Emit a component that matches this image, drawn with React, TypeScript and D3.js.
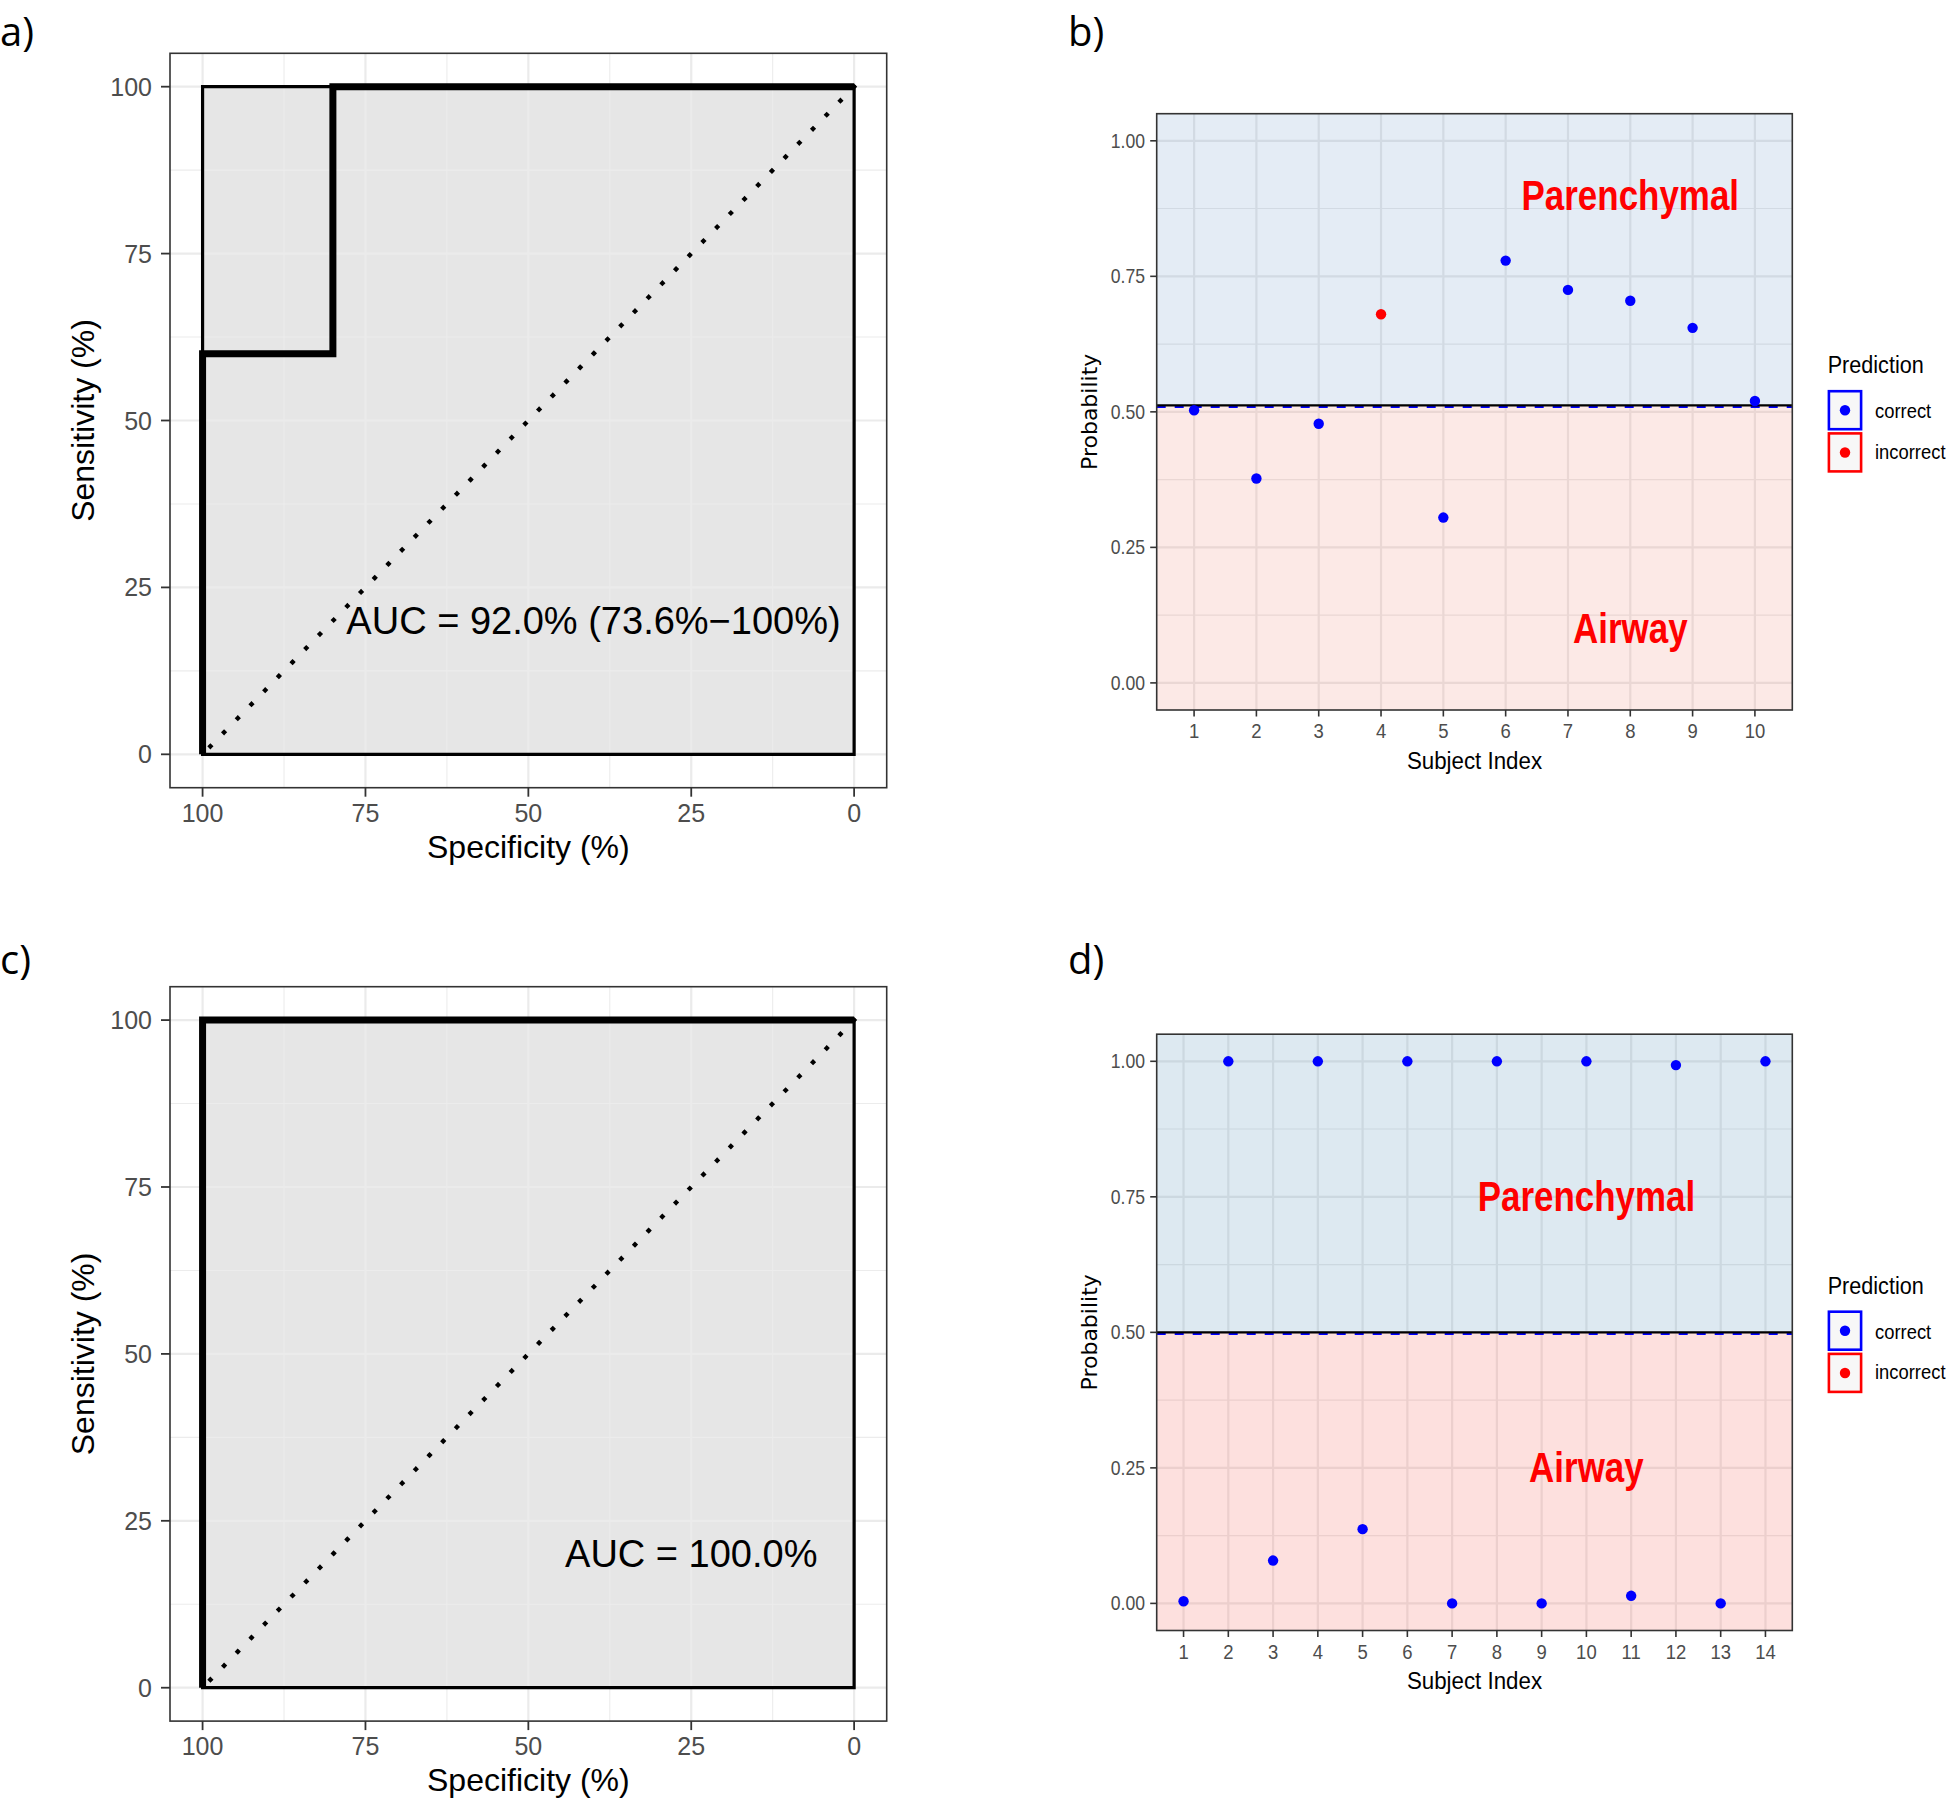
import React from "react";
import * as d3 from "d3";

// ---------- data ----------
const rocTicks = [100, 75, 50, 25, 0];
const rocMinor = [12.5, 37.5, 62.5, 87.5];

// panel a ROC curve (specificity %, sensitivity %)
const rocASpec = [100, 100, 80, 80, 0];
const rocASens = [0, 60, 60, 100, 100];
// panel c ROC curve
const rocCSpec = [100, 100, 0];
const rocCSens = [0, 100, 100];
// confidence band outline (both panels)
const bandSpec = [100, 100, 0, 0, 100];
const bandSens = [0, 100, 100, 0, 0];

const aucA = "AUC = 92.0% (73.6%\u2212100%)";
const aucC = "AUC = 100.0%";

// panel b probabilities
const probB = [0.503, 0.377, 0.478, 0.68, 0.305, 0.779, 0.725, 0.705, 0.655, 0.52];
const predB = ["correct", "correct", "correct", "incorrect", "correct", "correct", "correct", "correct", "correct", "correct"];
const thresholdB = 0.512;

// panel d probabilities
const probD = [0.004, 1.0, 0.079, 1.0, 0.137, 1.0, 0.0, 1.0, 0.0, 1.0, 0.014, 0.993, 0.0, 1.0];
const predD = Array.from({ length: 14 }, () => "correct");
const thresholdD = 0.5;

const probTicks = [0, 0.25, 0.5, 0.75, 1];
const probMinor = [0.125, 0.375, 0.625, 0.875];
const predLevels = ["correct", "incorrect"];
const predColors = ["#0000ff", "#ff0000"];

const SANS = "'Liberation Sans', Arial, Helvetica, sans-serif";
const LBL = "'Open Sans', 'DejaVu Sans', sans-serif";

function NText({ x, y, sx = 1, rotate = 0, anchor = "start", size, weight = "normal", fill = "#000", family = SANS, children }: any) {
  const tr = `translate(${x},${y})` + (rotate ? ` rotate(${rotate})` : "") + (sx !== 1 ? ` scale(${sx},1)` : "");
  return (
    <text transform={tr} textAnchor={anchor} fontSize={size} fontWeight={weight} fill={fill} fontFamily={family}>
      {children}
    </text>
  );
}

function RocPanel({ oy, spec, sens, auc, aucX }: any) {
  const x0 = 170, x1 = 886.7, y0 = 53.3 + oy, y1 = 787.7 + oy;
  const xS = d3.scaleLinear().domain([105, -5]).range([x0, x1]);
  const yS = d3.scaleLinear().domain([-5, 105]).range([y1, y0]);
  const pathOf = (xs: number[], ys: number[]) =>
    d3.line<number>().x((d) => xS(d)).y((d, i) => yS(ys[i]))(xs) as string;
  const band = pathOf(bandSpec, bandSens) + "Z";
  const curve = pathOf(spec, sens);
  const diag = pathOf([0, 100], [100, 0]);
  return (
    <g>
      <rect x={x0} y={y0} width={x1 - x0} height={y1 - y0} fill="#fff" />
      <path d={band} fill="#e6e6e6" stroke="none" />
      {rocMinor.map((v) => (
        <g key={"m" + v}>
          <line x1={xS(v)} x2={xS(v)} y1={y0} y2={y1} stroke="#ececec" strokeWidth={1.1} />
          <line x1={x0} x2={x1} y1={yS(v)} y2={yS(v)} stroke="#ececec" strokeWidth={1.1} />
        </g>
      ))}
      {rocTicks.map((v) => (
        <g key={"M" + v}>
          <line x1={xS(v)} x2={xS(v)} y1={y0} y2={y1} stroke="#ebebeb" strokeWidth={2.2} />
          <line x1={x0} x2={x1} y1={yS(v)} y2={yS(v)} stroke="#ebebeb" strokeWidth={2.2} />
        </g>
      ))}
      <path d={band} fill="none" stroke="#000" strokeWidth={3.2} />
      <path d={diag} fill="none" stroke="#000" strokeWidth={4.4} strokeLinecap="square" strokeDasharray="0.01 19.6" />
      <path d={curve} fill="none" stroke="#000" strokeWidth={7} strokeLinejoin="miter" />
      <rect x={x0} y={y0} width={x1 - x0} height={y1 - y0} fill="none" stroke="#333" strokeWidth={1.6} />
      {rocTicks.map((v) => (
        <g key={"t" + v}>
          <line x1={x0 - 9} x2={x0} y1={yS(v)} y2={yS(v)} stroke="#333" strokeWidth={1.8} />
          <NText x={152} y={yS(v) + 9} anchor="end" size={25} fill="#4d4d4d">{String(v)}</NText>
          <line x1={xS(v)} x2={xS(v)} y1={y1} y2={y1 + 9} stroke="#333" strokeWidth={1.8} />
          <NText x={xS(v)} y={822 + oy} anchor="middle" size={25} fill="#4d4d4d">{String(v)}</NText>
        </g>
      ))}
      <NText x={(x0 + x1) / 2} y={858 + oy} anchor="middle" size={32}>Specificity (%)</NText>
      <NText x={94} y={(y0 + y1) / 2} rotate={-90} anchor="middle" size={32}>Sensitivity (%)</NText>
      <NText x={xS(aucX)} y={yS(20) + 13} anchor="middle" size={38}>{auc}</NText>
    </g>
  );
}

function ProbPanel({ oy, probs, preds, threshold, labX, labYTop, labYBot, blue, pink }: any) {
  const n = probs.length;
  const x0 = 1156.7, x1 = 1792.3, y0 = 113.7 + oy, y1 = 710 + oy;
  const idx = d3.range(1, n + 1);
  const xS = d3.scaleLinear().domain([0.4, n + 0.6]).range([x0, x1]);
  const yS = d3.scaleLinear().domain([-0.05, 1.05]).range([y1, y0]);
  const col = d3.scaleOrdinal<string, string>().domain(predLevels).range(predColors);
  const ty = yS(threshold);
  const SX = 0.88;
  return (
    <g>
      <rect x={x0} y={y0} width={x1 - x0} height={y1 - y0} fill="#fff" />
      {probMinor.map((v) => (
        <line key={"m" + v} x1={x0} x2={x1} y1={yS(v)} y2={yS(v)} stroke="#ebebeb" strokeWidth={1.1} />
      ))}
      {probTicks.map((v) => (
        <line key={"M" + v} x1={x0} x2={x1} y1={yS(v)} y2={yS(v)} stroke="#ebebeb" strokeWidth={2.2} />
      ))}
      {idx.map((v) => (
        <line key={"v" + v} x1={xS(v)} x2={xS(v)} y1={y0} y2={y1} stroke="#ebebeb" strokeWidth={2.2} />
      ))}
      <rect x={x0} y={y0} width={x1 - x0} height={ty - y0} fill={blue[0]} fillOpacity={blue[1]} />
      <rect x={x0} y={ty} width={x1 - x0} height={y1 - ty} fill={pink[0]} fillOpacity={pink[1]} />
      <line x1={x0} x2={x1} y1={ty + 1.3} y2={ty + 1.3} stroke="#0000ff" strokeWidth={2.6} strokeDasharray="9 9" />
      <line x1={x0} x2={x1} y1={ty} y2={ty} stroke="#000" strokeWidth={2.2} />
      <NText x={xS(labX)} y={yS(labYTop) + 14.6} anchor="middle" size={41.6} weight="bold" fill="#ff0000" sx={0.84}>Parenchymal</NText>
      <NText x={xS(labX)} y={yS(labYBot) + 14.6} anchor="middle" size={41.6} weight="bold" fill="#ff0000" sx={0.84}>Airway</NText>
      {probs.map((p: number, i: number) => (
        <circle key={i} cx={xS(i + 1)} cy={yS(p)} r={5.2} fill={col(preds[i])} />
      ))}
      <rect x={x0} y={y0} width={x1 - x0} height={y1 - y0} fill="none" stroke="#333" strokeWidth={1.6} />
      {probTicks.map((v) => (
        <g key={"t" + v}>
          <line x1={x0 - 6.5} x2={x0} y1={yS(v)} y2={yS(v)} stroke="#333" strokeWidth={1.6} />
          <NText x={1145} y={yS(v) + 7} anchor="end" size={20} fill="#4d4d4d" sx={SX}>{v.toFixed(2)}</NText>
        </g>
      ))}
      {idx.map((v) => (
        <g key={"x" + v}>
          <line x1={xS(v)} x2={xS(v)} y1={y1} y2={y1 + 6.5} stroke="#333" strokeWidth={1.6} />
          <NText x={xS(v)} y={738 + oy} anchor="middle" size={21} fill="#4d4d4d" sx={SX}>{String(v)}</NText>
        </g>
      ))}
      <NText x={(x0 + x1) / 2} y={768.7 + oy} anchor="middle" size={24} sx={0.93}>Subject Index</NText>
      <NText x={1097} y={(y0 + y1) / 2} rotate={-90} anchor="middle" size={22} family="'DejaVu Sans', sans-serif">Probability</NText>
      {/* legend */}
      <NText x={1827.7} y={373.3 + oy} size={24} sx={0.9}>Prediction</NText>
      {predLevels.map((lv, i) => (
        <g key={lv}>
          <rect x={1828.9} y={391.2 + i * 42.2 + oy} width={32.2} height={38} fill="#f7f7f7" stroke={col(lv)} strokeWidth={2.6} />
          <circle cx={1845} cy={410.3 + i * 42.2 + oy} r={5.2} fill={col(lv)} />
          <NText x={1875} y={418 + i * 40.5 + oy} size={20} sx={0.92}>{lv}</NText>
        </g>
      ))}
    </g>
  );
}

export default function App() {
  return (
    <svg width={1946} height={1802} style={{ position: "absolute", left: 0, top: 0, background: "#fff" }}>
      <rect x={0} y={0} width={1946} height={1802} fill="#fff" />
      <RocPanel oy={0} spec={rocASpec} sens={rocASens} auc={aucA} aucX={40} />
      <RocPanel oy={933.4} spec={rocCSpec} sens={rocCSens} auc={aucC} aucX={25} />
      <ProbPanel oy={0} probs={probB} preds={predB} threshold={thresholdB} labX={8} labYTop={0.9} labYBot={0.1}
        blue={["#1e61ac", 0.12]} pink={["#e6482f", 0.12]} />
      <ProbPanel oy={920.5} probs={probD} preds={predD} threshold={thresholdD} labX={10} labYTop={0.75} labYBot={0.25}
        blue={["#1c6ca2", 0.15]} pink={["#f23023", 0.15]} />
      <NText x={0} y={46} size={40} family={LBL}>a)</NText>
      <NText x={1068} y={46} size={40} family={LBL}>b)</NText>
      <NText x={0} y={974} size={40} family={LBL}>c)</NText>
      <NText x={1068} y={974} size={40} family={LBL}>d)</NText>
    </svg>
  );
}
